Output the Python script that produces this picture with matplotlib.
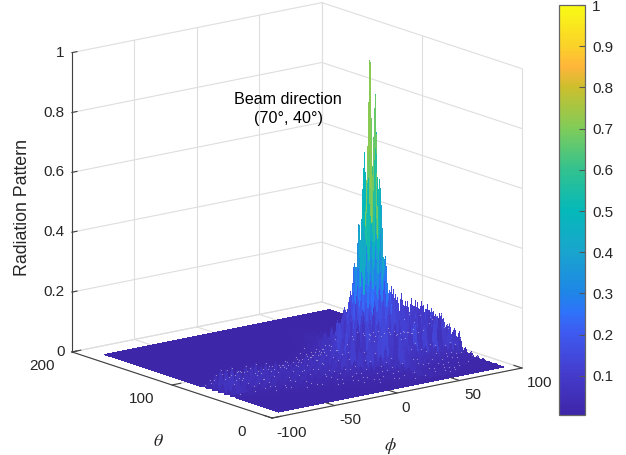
import numpy as np
import matplotlib
matplotlib.use('Agg')
import matplotlib.pyplot as plt
from matplotlib.colors import LinearSegmentedColormap, Normalize
from matplotlib.cm import ScalarMappable
from mpl_toolkits.mplot3d import proj3d

W, H = 626, 455

phi_ticks = [-100, -50, 0, 50, 100]
theta_ticks = [0, 100, 200]
z_ticks = [0, 0.2, 0.4, 0.6, 0.8, 1]
z_ticklabels = ['0', '0.2', '0.4', '0.6', '0.8', '1']
bar_ticks = [0.1, 0.2, 0.3, 0.4, 0.5, 0.6, 0.7, 0.8, 0.9, 1]
bar_ticklabels = ['0.1', '0.2', '0.3', '0.4', '0.5', '0.6', '0.7', '0.8', '0.9', '1']

floor_level = 5

# raised ground under the lobes, in thousandths, one block per 12 x 12 deg
mound_phi = [-90, -78, -66, -54, -42, -30, -18, -6, 6, 18, 30, 42, 54, 66, 78]
mound_theta = [26, 38, 50, 62, 74, 86, 98]
mound_rows = [
    [5, 5, 5, 5, 5, 5, 5, 6, 8, 10, 14, 12, 10, 8, 6],
    [5, 5, 5, 5, 5, 5, 6, 8, 14, 22, 36, 30, 20, 16, 12],
    [5, 5, 5, 5, 5, 6, 8, 12, 24, 60, 110, 100, 70, 60, 45],
    [5, 5, 5, 5, 5, 6, 8, 14, 30, 90, 110, 110, 90, 80, 70],
    [5, 5, 5, 5, 5, 6, 8, 12, 26, 80, 110, 90, 75, 65, 55],
    [5, 5, 5, 5, 5, 5, 6, 10, 20, 60, 90, 50, 20, 16, 14],
    [5, 5, 5, 5, 5, 5, 5, 6, 12, 22, 36, 18, 10, 8, 7],
]

# side lobes, in thousandths. one row per theta,
# spikes every 4 deg of phi, each row ends at phi = 90
lobe_theta = [14, 20, 26, 32, 38, 44, 50, 56, 62, 68, 74, 80, 86, 92, 98, 104,
              110, 116, 122, 128, 134, 140, 146, 152, 158]
lobe_rows = [
    [6, 8, 7, 10, 8, 12, 9, 14, 18, 16, 30, 22, 18, 20, 14, 16, 12, 10, 12, 9, 8, 10, 7, 8],
    [7, 9, 8, 10, 9, 14, 11, 12, 16, 14, 20, 24, 22, 42, 30, 28, 22, 18, 20, 16, 14, 16, 12, 10, 12, 9, 10, 8],
    [6, 8, 9, 7, 11, 12, 10, 14, 12, 16, 14, 20, 18, 22, 26, 24, 30, 58, 40, 34, 32, 24, 26, 20, 22, 18, 16, 18, 14, 12, 10, 12],
    [7, 6, 9, 8, 10, 12, 9, 14, 13, 11, 16, 14, 20, 17, 24, 22, 28, 26, 34, 30, 40, 78, 60, 44, 48, 36, 34, 30, 28, 32, 26, 22, 24, 18, 20, 14],
    [8, 7, 10, 9, 12, 11, 14, 10, 16, 13, 18, 12, 20, 16, 24, 19, 26, 22, 32, 30, 36, 34, 44, 52, 60, 110, 90, 70, 60, 64, 52, 48, 40, 42, 34, 32, 26, 28, 24, 20],
    [8, 7, 10, 12, 9, 14, 11, 16, 13, 18, 15, 22, 14, 24, 18, 28, 20, 30, 26, 38, 34, 40, 36, 52, 46, 70, 60, 84, 90, 150, 120, 100, 84, 76, 72, 60, 64, 56, 66, 50, 58, 46, 62, 30],
    [10, 14, 12, 18, 14, 11, 16, 20, 16, 24, 14, 26, 20, 30, 18, 32, 24, 36, 22, 34, 28, 42, 36, 58, 48, 84, 70, 110, 100, 130, 140, 200, 150, 170, 110, 170, 140, 175, 120, 165, 130, 150, 100, 110, 90, 75],
    [24, 40, 58, 48, 36, 20, 26, 38, 22, 40, 24, 36, 28, 42, 26, 40, 30, 38, 34, 46, 42, 64, 50, 90, 70, 110, 150, 180, 140, 200, 160, 220, 180, 250, 190, 190, 170, 180, 130, 175, 125, 150, 105, 120, 85, 72],
    [36, 66, 78, 70, 44, 22, 48, 58, 28, 54, 30, 40, 36, 48, 32, 46, 28, 44, 36, 52, 40, 60, 48, 74, 56, 88, 110, 160, 190, 0, 0, 0, 0, 0, 0, 210, 170, 190, 150, 180, 130, 165, 115, 120, 105, 85],
    [30, 62, 70, 74, 58, 26, 52, 66, 34, 60, 36, 52, 30, 50, 38, 48, 40, 46, 42, 56, 44, 68, 52, 80, 62, 96, 130, 170, 230, 0, 0, 0, 0, 0, 0, 240, 190, 210, 150, 185, 140, 170, 120, 140, 110, 115],
    [26, 50, 64, 60, 40, 20, 44, 62, 30, 62, 28, 56, 26, 54, 34, 50, 30, 48, 36, 54, 46, 62, 50, 76, 58, 92, 130, 170, 240, 0, 0, 0, 0, 0, 0, 220, 180, 200, 135, 170, 145, 165, 115, 130, 100, 105],
    [14, 28, 36, 30, 22, 12, 26, 38, 18, 40, 20, 36, 18, 34, 22, 32, 20, 30, 24, 34, 30, 42, 36, 52, 44, 64, 90, 130, 180, 0, 0, 0, 0, 0, 0, 170, 130, 140, 105, 120, 100, 115, 85, 90, 75, 70],
    [10, 14, 12, 9, 14, 18, 10, 20, 12, 18, 11, 16, 13, 18, 12, 16, 14, 20, 16, 24, 20, 32, 28, 44, 48, 70, 90, 160, 130, 210, 180, 240, 170, 140, 90, 76, 70, 54, 66, 50, 44, 52, 38, 40],
    [7, 9, 6, 8, 7, 10, 8, 9, 8, 12, 9, 14, 12, 16, 14, 22, 20, 30, 34, 50, 80, 120, 95, 150, 130, 170, 110, 85, 46, 40, 48, 36, 42, 34, 30, 34, 26, 24],
    [6, 8, 7, 9, 8, 10, 9, 12, 14, 18, 16, 22, 28, 38, 60, 90, 70, 110, 95, 120, 65, 60, 34, 30, 36, 28, 30, 24, 22, 24, 18, 16],
    [6, 7, 9, 8, 11, 12, 14, 18, 24, 36, 50, 66, 50, 60, 80, 60, 46, 40, 26, 24, 28, 22, 24, 18, 16, 18, 14, 12],
    [8, 7, 10, 12, 16, 22, 30, 38, 52, 36, 44, 50, 34, 28, 30, 22, 20, 22, 18, 18, 14, 13, 14, 11],
    [8, 9, 14, 18, 24, 30, 40, 28, 34, 38, 26, 22, 24, 18, 16, 18, 14, 14, 11, 10, 11],
    [10, 12, 16, 20, 30, 22, 26, 30, 20, 18, 20, 15, 14, 15, 12, 11, 9, 9, 9],
    [9, 12, 14, 22, 18, 20, 22, 16, 14, 16, 12, 12, 12, 10, 10, 8, 8, 7],
    [10, 12, 18, 14, 16, 18, 14, 12, 13, 10, 10, 10, 9, 8, 7, 7, 7],
    [9, 14, 11, 13, 14, 11, 10, 11, 9, 9, 8, 8, 7, 7, 6, 6],
    [8, 11, 10, 11, 12, 10, 9, 9, 8, 8, 7, 7, 6, 6, 6, 6],
    [9, 8, 9, 10, 8, 8, 8, 7, 7, 6, 6, 6, 6, 6, 6],
    [7, 8, 7, 9, 7, 7, 6, 7, 6, 6],
]

# main beam, every 2 deg
beam_phi = [24, 26, 28, 30, 32, 34, 36, 38, 40, 42, 44, 46, 48]
beam_theta = [60, 62, 64, 66, 68, 70, 72, 74, 76, 78, 80, 82, 84]
beam_rows = [
    [130, 180, 140, 230, 180, 270, 210, 300, 190, 240, 160, 150, 100],
    [150, 130, 220, 170, 290, 220, 350, 240, 310, 200, 230, 130, 120],
    [130, 210, 190, 320, 250, 420, 300, 470, 270, 350, 200, 190, 110],
    [170, 160, 300, 260, 470, 320, 560, 340, 520, 300, 300, 170, 130],
    [130, 260, 230, 450, 340, 620, 400, 680, 370, 490, 250, 230, 120],
    [190, 190, 350, 700, 390, 760, 460, 720, 420, 600, 300, 190, 130],
    [140, 280, 250, 480, 430, 640, 1000, 530, 760, 400, 430, 170, 150],
    [170, 190, 380, 320, 570, 440, 700, 480, 640, 880, 290, 240, 120],
    [130, 250, 230, 430, 340, 620, 420, 590, 370, 440, 260, 180, 130],
    [150, 170, 310, 260, 450, 320, 530, 340, 430, 280, 250, 160, 110],
    [120, 210, 190, 320, 250, 400, 290, 380, 260, 300, 190, 160, 100],
    [140, 130, 200, 180, 280, 230, 310, 230, 250, 180, 170, 120, 100],
    [90, 150, 130, 200, 170, 220, 190, 200, 160, 170, 120, 110, 80],
]

parula = LinearSegmentedColormap.from_list('parula', [
    (0.00, (0.2430, 0.1490, 0.6590)),
    (0.10, (0.2670, 0.2350, 0.8040)),
    (0.20, (0.2430, 0.3530, 0.9410)),
    (0.25, (0.1800, 0.4500, 0.9800)),
    (0.30, (0.1180, 0.5290, 0.9020)),
    (0.40, (0.0980, 0.6470, 0.8040)),
    (0.50, (0.0200, 0.7250, 0.7250)),
    (0.60, (0.2000, 0.7600, 0.5600)),
    (0.70, (0.5000, 0.8000, 0.3500)),
    (0.80, (0.8000, 0.7500, 0.1800)),
    (0.85, (1.0000, 0.7100, 0.2300)),
    (0.90, (0.9800, 0.8200, 0.1600)),
    (1.00, (0.9769, 0.9839, 0.0805)),
])

plt.rcParams['font.family'] = ['Liberation Sans', 'DejaVu Sans']
plt.rcParams['mathtext.fontset'] = 'stix'

phi = np.arange(-90, 91, 2)
theta = np.arange(6, 181, 2)
PHI, THETA = np.meshgrid(phi, theta)
Z = np.full((len(theta), len(phi)), float(floor_level))
for th, row in zip(mound_theta, mound_rows):
    for p, v in zip(mound_phi, row):
        Z[(THETA >= th) & (THETA < th + 12) & (PHI >= p) & (PHI < p + 12)] = v
spike = np.zeros_like(Z, dtype=bool)
for th, row in zip(lobe_theta, lobe_rows):
    start = 46 - len(row)
    for i, v in enumerate(row):
        j, k = (th - 6) // 2, 2 * (start + i)
        Z[j, k] = max(v, Z[j, k])
        spike[j, k] = v > 0 and v % 3 != 0
for th, row in zip(beam_theta, beam_rows):
    for p, v in zip(beam_phi, row):
        Z[(th - 6) // 2, (p + 90) // 2] = v
Z = Z / 1000.0

# cell colour: the small lobes take their tip colour, the beam its mean
cell_max = np.max([Z[:-1, :-1], Z[1:, :-1], Z[:-1, 1:], Z[1:, 1:]], axis=0)
cell_mean = np.mean([Z[:-1, :-1], Z[1:, :-1], Z[:-1, 1:], Z[1:, 1:]], axis=0)
cell_z = np.where(cell_max < 0.15, cell_max, cell_mean)

fig = plt.figure(figsize=(W / 100, H / 100), dpi=100)
ax = fig.add_axes([0.1, 0.1, 0.8, 0.8], projection='3d', computed_zorder=False)
ax.set_proj_type('ortho')
ax.set_box_aspect((317, 326, 310))
ax.view_init(elev=14.9, azim=232.1)
ax.set_xlim(-100, 100, view_margin=0)
ax.set_ylim(0, 200, view_margin=0)
ax.set_zlim(0, 1, view_margin=0)
ax.set_xticks([])
ax.set_yticks([])
ax.set_zticks([])
ax.set_axis_off()


def corners_px():
    fig.canvas.draw()
    xs, ys, _ = proj3d.proj_transform(np.array([-100, -100, 100.]), np.array([200, 0, 0.]),
                                      np.array([0, 0, 0.]), ax.get_proj())
    return ax.transData.transform(np.column_stack([xs, ys]))


# fit the box on the corners seen in the picture
target = np.array([[72, H - 352], [272, H - 418], [522, H - 368]], dtype=float)
p = corners_px()
k = (target[2, 0] - target[0, 0]) / (p[2, 0] - p[0, 0])
b = ax.get_position(original=True)
ax.set_position([b.x0, b.y0, b.width * k, b.height * k])
p = corners_px()
dx, dy = (target - p).mean(axis=0)
b = ax.get_position(original=True)
ax.set_position([b.x0 + dx / W, b.y0 + dy / H, b.width, b.height])

grid = dict(color='#dedede', lw=0.8, zorder=1)
line = dict(color='#404040', lw=0.8, zorder=5)

for z in z_ticks:
    ax.plot([-100, 100], [200, 200], [z, z], **grid)
    ax.plot([100, 100], [0, 200], [z, z], **grid)
for p_ in phi_ticks:
    ax.plot([p_, p_], [200, 200], [0, 1], **grid)
    ax.plot([p_, p_], [0, 200], [0, 0], **grid)
for t in theta_ticks:
    ax.plot([100, 100], [t, t], [0, 1], **grid)
    ax.plot([-100, 100], [t, t], [0, 0], **grid)

norm = Normalize(0.005, 1)
ax.plot_surface(PHI, THETA, Z, facecolors=parula(norm(cell_z)), rstride=1, cstride=1,
                linewidth=0, shade=False, antialiased=False, zorder=2)

# pale tips of the small spikes
tips = spike & (Z >= 0.012) & (Z <= 0.12) & ((THETA < 60) | (PHI < 15) | (PHI > 60))
ax.scatter(PHI[tips], THETA[tips], Z[tips], s=0.8, c='#b4acdc', alpha=0.7, linewidths=0,
           depthshade=False, zorder=3)

# axis lines and inward ticks
ax.plot([-100, -100], [200, 200], [0, 1], **line)
ax.plot([-100, -100], [0, 200], [0, 0], **line)
ax.plot([-100, 100], [0, 0], [0, 0], **line)
for p_ in phi_ticks:
    ax.plot([p_, p_], [0, 8], [0, 0], **line)
    ax.text(p_, -4.5, -0.045, str(p_), ha='left', va='center', fontsize=11, color='#262626')
for t in theta_ticks:
    ax.plot([-100, -93], [t, t], [0, 0], **line)
    ax.text(-124, t, -0.027, str(t), ha='center', va='center', fontsize=11, color='#262626')
for z, lab in zip(z_ticks, z_ticklabels):
    ax.plot([-100, -96], [200, 200], [z, z], **line)
    ax.text(-106, 200, z + 0.005, lab, ha='right', va='center', fontsize=11, color='#262626')

fig.text(23 / W, 1 - 207 / H, 'Radiation Pattern', rotation=90, ha='center', va='center',
         fontsize=12.8, color='#262626')
fig.text(158 / W, 1 - 441 / H, r'$\theta$', ha='center', va='center', fontsize=13, color='#262626')
fig.text(390 / W, 1 - 446 / H, r'$\phi$', ha='center', va='center', fontsize=13, color='#262626')
fig.text(288 / W, 1 - 109 / H, 'Beam direction\n(70\N{DEGREE SIGN}, 40\N{DEGREE SIGN})',
         ha='center', va='center', fontsize=11.6, linespacing=1.25, color='black')

cax = fig.add_axes([559 / W, 1 - 415 / H, 26 / W, 410 / H])
cb = fig.colorbar(ScalarMappable(norm, parula), cax=cax)
cb.set_ticks(bar_ticks)
cb.set_ticklabels(bar_ticklabels)
cb.ax.tick_params(direction='in', length=4, width=0.8, color='#555555', labelsize=11,
                  labelcolor='#262626', pad=5)
cb.outline.set_edgecolor('#666666')
cb.outline.set_linewidth(0.9)

fig.savefig('out.png', dpi=100)
